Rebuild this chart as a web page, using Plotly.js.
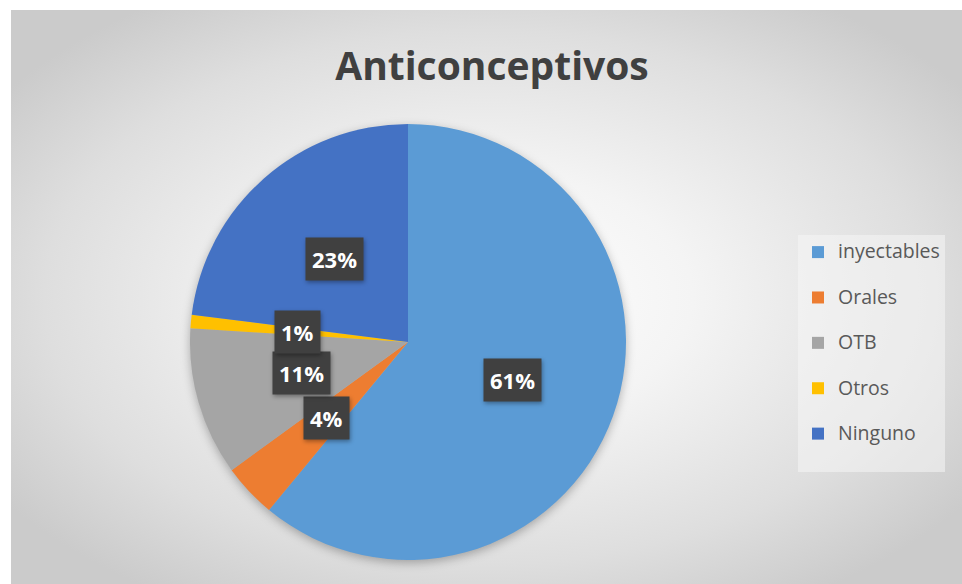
<!DOCTYPE html>
<html>
<head>
<meta charset="utf-8">
<script src="https://cdn.plot.ly/plotly-3.0.1.min.js"></script>
<style>
  html, body { margin: 0; padding: 0; background: #ffffff; }
  #bg {
    position: absolute; left: 11px; top: 10px; width: 951px; height: 574px;
    background: radial-gradient(ellipse 62% 62% at 50% 50%, #ffffff 0%, #f4f4f4 35%, #dedede 75%, #cbcbcb 100%);
  }
  #chart { position: absolute; left: 0; top: 0; width: 962px; height: 584px; }
  #chart .pielayer { filter: drop-shadow(0px 3px 5px rgba(0,0,0,0.28)); }
  #chart .annotation-text-g rect.bg { filter: drop-shadow(1px 2px 2px rgba(0,0,0,0.35)); }
</style>
</head>
<body>
<div id="bg"></div>
<div id="chart"></div>
<script>
// Data
const categories = ["inyectables", "Orales", "OTB", "Otros", "Ninguno"];
const values = [61, 4, 11, 1, 23];
const colors = ["#5B9BD5", "#ED7D31", "#A5A5A5", "#FFC000", "#4472C4"];
const titleText = "Anticonceptivos";

// Layout geometry
const W = 962, H = 584;
const cx = 408, cy = 342, R = 218;
const domX = [(cx - R) / W, (cx + R) / W];
const domY = [1 - (cy + R) / H, 1 - (cy - R) / H];

// Label positions derived from the data (mid-angle of each slice)
const total = values.reduce((a, b) => a + b, 0);
let cum = 0;
const annotations = values.map((v, i) => {
  const frac = (cum + v / 2) / total;
  cum += v;
  const th = 2 * Math.PI * frac;
  const px = cx + 0.51 * R * Math.sin(th);
  const py = cy - 0.51 * R * Math.cos(th);
  return {
    xref: "paper", yref: "paper",
    x: px / W, y: 1 - py / H,
    xanchor: "center", yanchor: "middle",
    text: Math.round(v / total * 100) + "%",
    showarrow: false,
    font: { family: "Open Sans", size: 22, color: "#ffffff", weight: "bold" },
    bgcolor: "#404040",
    borderpad: 6
  };
});

const trace = {
  type: "pie",
  labels: categories.map(c => '<span style="font-size:19.5px">' + c + '</span><br> '),
  values: values,
  marker: { colors: colors, line: { width: 0 } },
  sort: false,
  direction: "clockwise",
  rotation: 0,
  textinfo: "none",
  hoverinfo: "label+percent",
  domain: { x: domX, y: domY }
};

const layout = {
  width: W, height: H,
  margin: { l: 0, r: 0, t: 0, b: 0 },
  paper_bgcolor: "rgba(0,0,0,0)",
  plot_bgcolor: "rgba(0,0,0,0)",
  title: {
    text: titleText,
    x: 492 / W, xanchor: "center",
    y: 1 - 66 / H, yanchor: "middle",
    font: { family: "Open Sans", size: 39, color: "#404040", weight: "bold" }
  },
  showlegend: true,
  legend: {
    x: 798 / W, xanchor: "left",
    y: 1 - 235 / H, yanchor: "top",
    bgcolor: "rgba(245,245,245,0.55)",
    borderwidth: 0,
    font: { family: "Open Sans", size: 16.3, color: "#595959" },
    valign: "top",
    itemclick: false
  },
  annotations: annotations
};

Plotly.newPlot("chart", [trace], layout, { staticPlot: true, displayModeBar: false });
</script>
</body>
</html>
